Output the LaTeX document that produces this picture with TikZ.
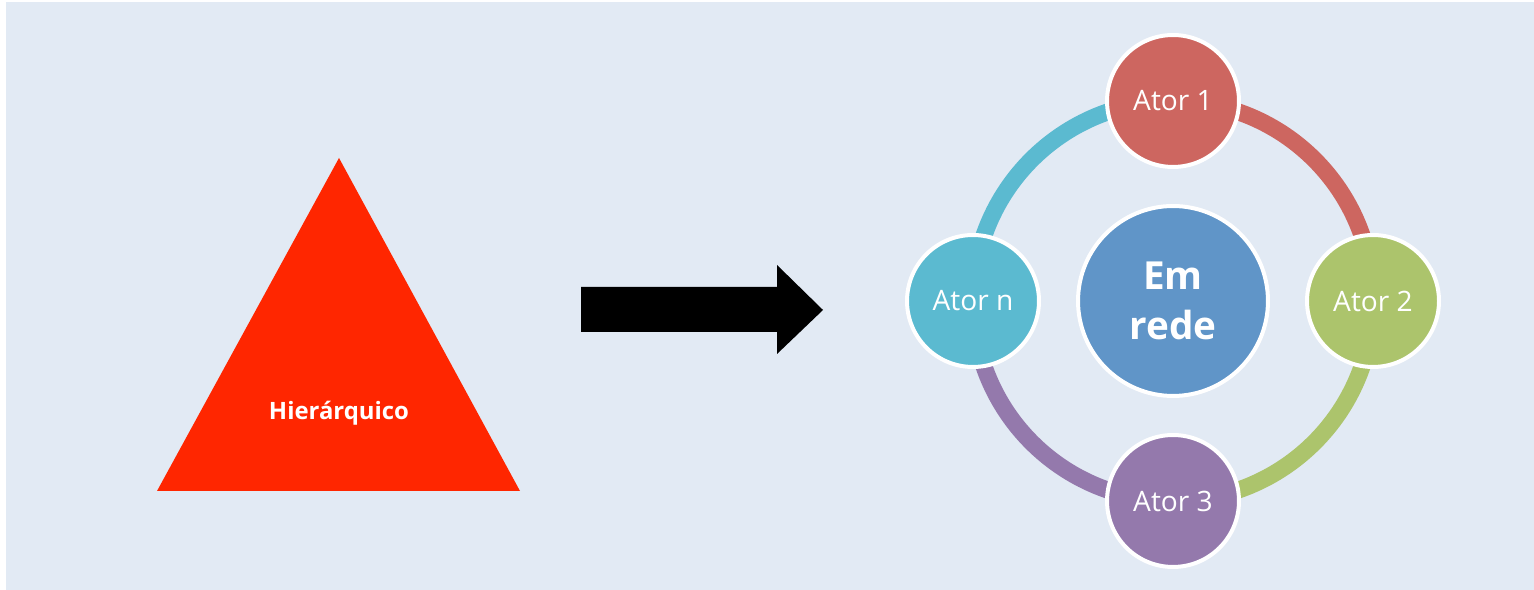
\documentclass[tikz,border=0pt]{standalone}
\usepackage{fontspec}
\setmainfont{Open Sans}
\usepackage{tikz}
\usetikzlibrary{backgrounds}

\definecolor{bgblue}{HTML}{E2EAF4}
\definecolor{hierred}{HTML}{FF2600}
\definecolor{redeblue}{HTML}{6095C8}
\definecolor{ator1col}{HTML}{CD6660}
\definecolor{ator2col}{HTML}{ACC46C}
\definecolor{ator3col}{HTML}{9479AC}
\definecolor{atorncol}{HTML}{5BBAD0}

\begin{document}
\begin{tikzpicture}
          [
            x=0.02cm, y=0.02cm,
            ator/.style={circle, draw=white, line width=0.08cm, minimum size=2.64cm,
              inner sep=0pt, text=white, font=\fontsize{16}{19}\selectfont},
            hub/.style={circle, draw=white, line width=0.08cm, minimum size=3.8cm,
              inner sep=0pt, fill=redeblue, text=white, align=center,
              font=\bfseries\fontsize{22}{28}\selectfont},
            ring/.style={line width=0.34cm}
          ]
          \useasboundingbox (0,0) rectangle (1534,590);
          % hierarquico
          \fill [hierred] (157,99) -- (339,432) -- (520,99) -- cycle;
          \node [anchor=base, text=white, font=\bfseries\fontsize{13.6}{16}\selectfont]
            (hier) at (339,170) {Hierárquico};
          % arrow
          \fill [black] (581,303) -- (777,303) -- (777,325) -- (823,280)
            -- (777,236) -- (777,258) -- (581,258) -- cycle;
          % em rede
          \node [hub] (rede) at (1173,289) {Em\\rede};
          \foreach \ang/\name/\txt/\col in {90/a1/Ator 1/ator1col, 0/a2/Ator 2/ator2col,
              -90/a3/Ator 3/ator3col, 180/an/Ator n/atorncol} {
              \node [ator, fill=\col] (\name) at ([shift={(\ang:200)}]rede) {\txt};
          }
          % ring
          \begin{pgfonlayer}{background}
            \fill [bgblue] (6,0) rectangle (1534,588);
            \foreach \a/\ang/\col in {a1/90/ator1col, a2/0/ator2col, a3/-90/ator3col, an/180/atorncol} {
                \draw [ring, \col] (\a.center) arc [start angle=\ang, delta angle=-90, radius=4cm];
            }
          \end{pgfonlayer}
        \end{tikzpicture}
\end{document}
